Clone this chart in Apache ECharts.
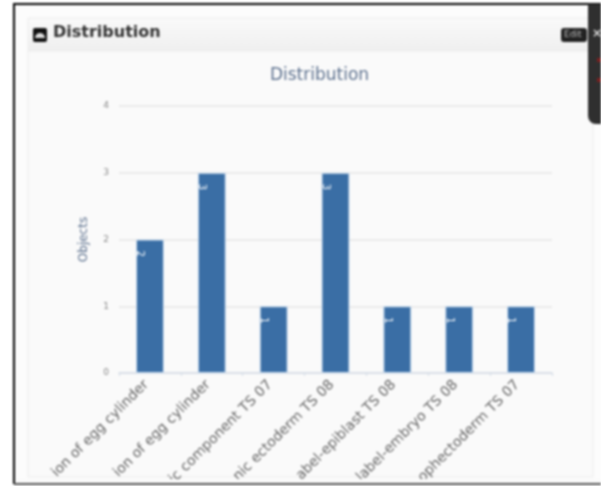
<!DOCTYPE html>
<html><head><meta charset="utf-8">
<style>html,body{margin:0;padding:0;background:#fff}#c{width:601px;height:486px;filter:blur(0.8px)}</style>
<script src="https://cdn.jsdelivr.net/npm/echarts@6/dist/echarts.min.js"></script>
</head><body><div id="c"></div>
<script>
const categories=["ion of egg cylinder","ion of egg cylinder","ic component TS 07","nic ectoderm TS 08","abel-epiblast TS 08","label-embryo TS 08","ophectoderm TS 07"];
const objects=[2,3,1,3,1,1,1];
const yTicks=[0,1,2,3,4];
const chartTitle="Distribution";
const panelTitle="Distribution";
const yName="Objects";
const font='"DejaVu Sans",sans-serif';
const chart=echarts.init(document.getElementById('c'),null,{renderer:'canvas'});
chart.setOption({
  animation:false,
  backgroundColor:'#fff',
  title:{text:chartTitle,left:314.5,top:62,textAlign:'center',textStyle:{color:'#5f7390',fontSize:17,fontWeight:'normal',fontFamily:font}},
  grid:{left:119,right:49,top:106,bottom:113,outerBoundsMode:'none'},
  xAxis:{type:'category',data:categories,
    axisLine:{lineStyle:{color:'#d3dbe6',width:1.5}},
    axisTick:{show:true,length:3,lineStyle:{color:'#d3dbe6'}},
    axisLabel:{rotate:45,interval:0,color:'#666',fontSize:14,fontFamily:font,margin:6,padding:[0,5,0,0]}},
  yAxis:{type:'value',min:yTicks[0],max:yTicks[yTicks.length-1],interval:1,
    name:yName,nameLocation:'middle',nameGap:29,nameTextStyle:{color:'#5f7390',fontSize:12,fontFamily:font},
    axisLine:{show:false},axisTick:{show:false},
    axisLabel:{color:'#888',fontSize:9,fontFamily:font,margin:10},
    splitLine:{lineStyle:{color:'#e4e4e4',width:1.5}}},
  series:[{type:'bar',data:objects,barWidth:28,z:3,
    itemStyle:{color:'#3a6ea5',borderColor:'#cfe0f2',borderWidth:1},
    label:{show:true,position:[9,11],rotate:-90,color:'#fff',fontSize:10,fontFamily:font}}],
  graphic:[
    {type:'rect',z:-10,silent:true,shape:{x:14,y:4,width:600,height:479},style:{fill:'#fcfcfc',stroke:'#000',lineWidth:2}},
    {type:'rect',z:-9,silent:true,shape:{x:28,y:18,width:565,height:33},style:{fill:{type:'linear',x:0,y:0,x2:0,y2:1,colorStops:[{offset:0,color:'#fafafa'},{offset:1,color:'#efefef'}]},stroke:'#ececec'}},
    {type:'rect',z:-9,silent:true,shape:{x:28,y:51,width:565,height:426},style:{fill:'#fafafa',stroke:'#ececec'}},
    {type:'rect',z:-8,silent:true,shape:{x:33,y:28,width:14,height:14,r:2},style:{fill:'#111'}},
    {type:'sector',z:-7,silent:true,shape:{cx:40,cy:38,r:5,startAngle:Math.PI,endAngle:0},style:{fill:'#ddd'}},
    {type:'text',z:5,silent:true,style:{x:53,y:25,text:panelTitle,fill:'#333',font:'bold 16px '+font}},
    {type:'rect',z:5,silent:true,shape:{x:561,y:28,width:26,height:14,r:3},style:{fill:'#222'}},
    {type:'text',z:6,silent:true,style:{x:564,y:30,text:'Edit',fill:'#bbb',font:'9px '+font}},
    {type:'rect',z:7,silent:true,shape:{x:588,y:4,width:20,height:120,r:[0,0,0,8]},style:{fill:'#2f2f2f'}},
    {type:'text',z:8,silent:true,style:{x:592,y:28,text:'×',fill:'#ddd',font:'bold 12px '+font}},
    {type:'rect',z:8,silent:true,shape:{x:597,y:58,width:4,height:4},style:{fill:'#7a2020'}},
    {type:'rect',z:8,silent:true,shape:{x:597,y:78,width:4,height:4},style:{fill:'#7a2020'}},
    {type:'rect',z:9,silent:true,shape:{x:15,y:479,width:586,height:7},style:{fill:'#fafafa'}},
    {type:'line',z:10,silent:true,shape:{x1:14,y1:484,x2:601,y2:484},style:{stroke:'#555',lineWidth:2}}
  ]
});
</script></body></html>
